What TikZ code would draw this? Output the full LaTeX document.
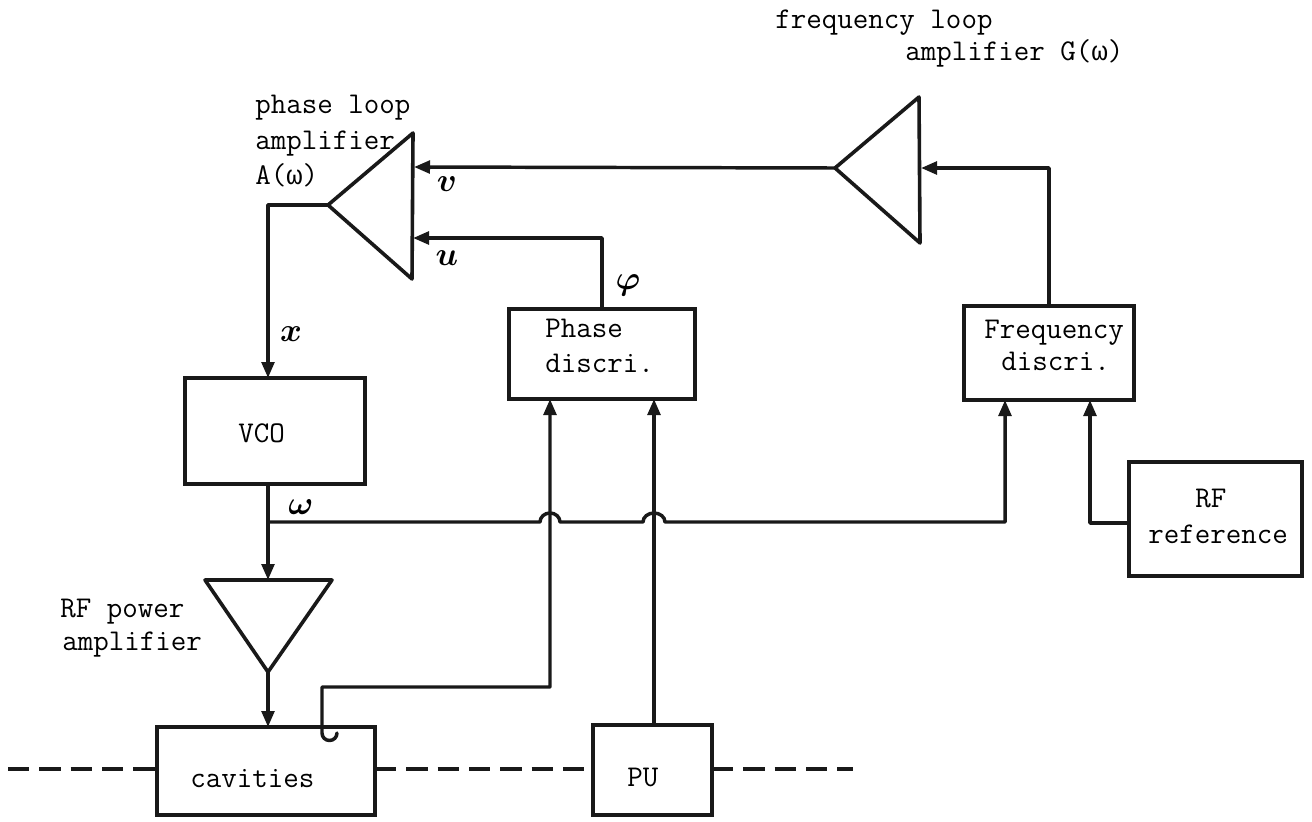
\documentclass[tikz,border=0pt]{standalone}
\usepackage{fontspec}
\newfontfamily\grk{Liberation Mono}[Scale=0.9]
\usetikzlibrary{arrows.meta}
\newcommand{\omg}{{\grk ω}}
\tikzset{
  wire/.style={line width=2.6pt,line cap=round,line join=round,black!90},
  arr/.style={wire,-{Triangle[length=12pt,width=9.5pt]}},
  tri/.style={line width=2.7pt,line join=round,black!90},
  boxnode/.style={draw=black!90,line width=2.8pt,inner sep=0pt,outer sep=0pt,anchor=north west},
  lab/.style={inner sep=0pt,font=\ttfamily\fontsize{22.6pt}{26pt}\selectfont,anchor=base west,text=black},
  sym/.style={inner sep=0pt,font=\fontsize{29pt}{31pt}\selectfont\boldmath},
  bigsym/.style={inner sep=0pt,font=\fontsize{33pt}{35pt}\selectfont\boldmath},
  beamline/.style={line width=2.6pt,dash pattern=on 16pt off 7.5pt,black!90}
}
\begin{document}
\begin{tikzpicture}[x=0.75pt,y=-0.75pt]
\useasboundingbox (0,0) rectangle (1312,821);
% boxes
\node[boxnode,minimum width=135pt,minimum height=79.5pt] (vco) at (185,378) {};
\node[boxnode,minimum width=139.5pt,minimum height=67.5pt] (phase) at (509,309) {};
\node[boxnode,minimum width=127.5pt,minimum height=70.5pt] (freq) at (964,306) {};
\node[boxnode,minimum width=129.75pt,minimum height=85.5pt] (rfref) at (1129,462) {};
\node[boxnode,minimum width=163.5pt,minimum height=66pt] (cav) at (157,727) {};
\node[boxnode,minimum width=89.25pt,minimum height=67.5pt] (pu) at (593,725) {};
% amplifiers
\coordinate (pTip) at (328,205); \coordinate (pTop) at (413,133); \coordinate (pBot) at (412,279);
\coordinate (fTip) at (835,168); \coordinate (fTop) at (919,97);  \coordinate (fBot) at (920,243);
\coordinate (rTip) at (268,672); \coordinate (rL) at (205,580);   \coordinate (rR) at (332,580);
\draw[tri] (pTip) -- (pTop) -- (pBot) -- cycle;
\draw[tri] (fTip) -- (fTop) -- (fBot) -- cycle;
\draw[tri] (rTip) -- (rL) -- (rR) -- cycle;
% connection points
\coordinate (pV) at (414,167); \coordinate (pU) at (413,238);
\coordinate (fIn) at (921,168);
\coordinate (vcoIn) at (268,378); \coordinate (vcoOut) at (268,484);
\coordinate (rIn) at (268,580); \coordinate (cavIn) at (268,727);
\coordinate (phOut) at (602,309); \coordinate (frOut) at (1049,306);
\coordinate (ph1) at (550,399); \coordinate (ph2) at (654,399);
\coordinate (fr1) at (1005,400); \coordinate (fr2) at (1090,400);
\coordinate (puOut) at (654,725); \coordinate (refOut) at (1129,523);
\coordinate (junc) at (268,522);
\coordinate (hookA) at (322,687); \coordinate (bendA) at (550,687);
% connectors
\draw[arr] (pTip) -- (268,205) -- (vcoIn);
\draw[arr] (fTip) -- (pV);
\draw[arr] (phOut) -- (phOut |- pU) -- (pU);
\draw[arr] (frOut) -- (frOut |- fIn) -- (fIn);
\draw[arr] (vcoOut) -- (rIn);
\draw[arr] (rTip) -- (cavIn);
\draw[arr] (puOut) -- (ph2);
\draw[arr] (refOut) -- (fr2 |- refOut) -- (fr2);
\draw[arr] (junc) -- (540,522) arc[start angle=180,end angle=360,x radius=10,y radius=9] -- (643,522)
   arc[start angle=180,end angle=360,x radius=11,y radius=9] -- (fr1 |- junc) -- (fr1);
\draw[arr] (337,733) arc[start angle=0,end angle=180,radius=7.5] -- (hookA) -- (bendA) -- (ph1);
% dashed beam line
\coordinate (d0) at (8,769); \coordinate (d1) at (853,769);
\draw[beamline] (d0) -- (cav.west |- d0);
\draw[beamline] (cav.east |- d0) -- (pu.west |- d0);
\draw[beamline] (pu.east |- d0) -- (d1);
% text
\node[lab] (t1) at (775,28) {frequency loop};
\node[lab] (t2) at (905,60) {amplifier G(\omg)};
\node[lab] (t3) at (255,113) {phase loop};
\node[lab] (t4) at (255,149) {amplifier};
\node[lab] (t5) at (255,184) {A(\omg)};
\node[lab] (t6) at (545,337) {Phase};
\node[lab] (t7) at (545,372) {discri.};
\node[lab] (t8) at (984,338) {Frequency};
\node[lab] (t9) at (1001,370) {discri.};
\node[lab] (t10) at (238,442) {VCO};
\node[lab] (t11) at (1195,507) {RF};
\node[lab] (t12) at (1148,543) {reference};
\node[lab] (t13) at (60,617) {RF power};
\node[lab] (t14) at (62,650) {amplifier};
\node[lab] (t15) at (190,787) {cavities};
\node[lab] (t16) at (627,786) {PU};
\node[sym] (s1) at (447,184) {$v$};
\node[sym] (s2) at (447,258) {$u$};
\node[sym] (s3) at (628,285) {$\varphi$};
\node[bigsym] (s4) at (291,334) {$x$};
\node[sym] (s5) at (301,507) {$\omega$};
\end{tikzpicture}
\end{document}
